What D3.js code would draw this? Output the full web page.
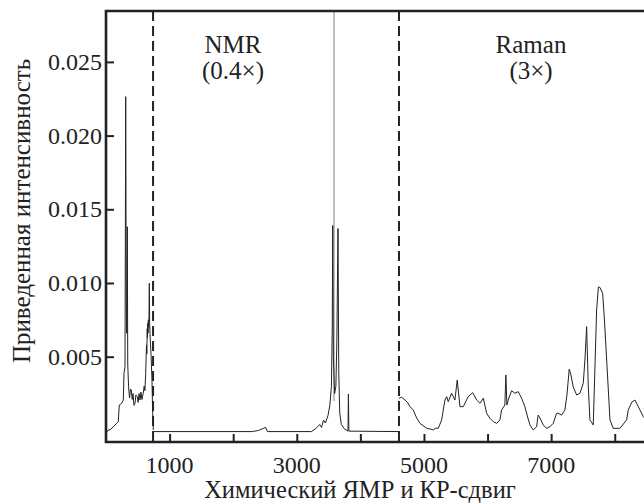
<!DOCTYPE html>
<html>
<head>
<meta charset="utf-8">
<script src="https://cdn.jsdelivr.net/npm/d3@7"></script>
<style>
  body { margin: 0; background: #fff; }
  svg { display: block; }
  svg text { font-family: 'Liberation Serif' !important; }
</style>
</head>
<body>
<div class="container"></div>
<script>
// left block (0 - 740)
var leftShift = [16, 36, 63, 115, 168, 193, 209, 247, 272, 283, 299, 310, 318, 325, 335, 342, 355, 370, 385, 398, 412, 425, 440, 456, 470, 492, 505, 520, 535, 550, 565, 586, 600, 612, 624, 637, 642, 648, 652, 656, 661, 666, 671, 676, 681, 687, 692, 700, 708, 723, 734, 744];
var leftInt = [-0.0001, 0.00003, 0.00003, 0.00025, 0.00048, 0.00059, 0.00172, 0.00184, 0.00206, 0.00387, 0.00432, 0.02264, 0.00885, 0.00659, 0.01382, 0.0045, 0.00296, 0.0022, 0.0028, 0.00274, 0.0021, 0.0025, 0.0017, 0.00184, 0.0024, 0.00229, 0.0019, 0.0025, 0.00206, 0.0026, 0.0021, 0.00252, 0.003, 0.0027, 0.00387, 0.0058, 0.0052, 0.0069, 0.0063, 0.00727, 0.0066, 0.0075, 0.0070, 0.0078, 0.00998, 0.0072, 0.00659, 0.0058, 0.00523, 0.0034, 0.00116, 0.00003];

// NMR block (0.4x)
var nmrShift = [744, 2300, 2400, 2480, 2510, 2540, 3230, 3290, 3330, 3360, 3390, 3420, 3450, 3490, 3520, 3545, 3558, 3565, 3575, 3595, 3615, 3630, 3648, 3660, 3675, 3700, 3750, 3805, 3812, 3819, 4607];
var nmrInt = [-0.00008, -0.00008, 0.0000, 0.00015, 0.0002, -0.00008, -0.00008, 0.0001, 0.00025, 0.0004, 0.0002, 0.0007, 0.0005, 0.001, 0.0017, 0.003, 0.007, 0.0139, 0.005, 0.0025, 0.003, 0.006, 0.0137, 0.004, 0.0012, 0.0004, 0.0001, -0.00005, 0.00247, -0.00005, -0.00008];

// Raman block (3x)
var ramanShift = [4607, 4649, 4701, 4748, 4780, 4832, 4885, 4937, 5043, 5094, 5146, 5188, 5225, 5278, 5303, 5330, 5357, 5382, 5435, 5487, 5523, 5566, 5618, 5696, 5766, 5829, 5881, 5933, 5986, 6038, 6090, 6144, 6195, 6220, 6272, 6288, 6304, 6325, 6378, 6430, 6482, 6535, 6587, 6634, 6666, 6718, 6771, 6796, 6824, 6876, 6929, 6981, 7033, 7086, 7111, 7164, 7216, 7248, 7284, 7311, 7347, 7401, 7453, 7505, 7531, 7558, 7584, 7610, 7662, 7715, 7743, 7767, 7810, 7838, 7873, 7925, 7977, 8082, 8187, 8212, 8270, 8318, 8370, 8449, 8520];
var ramanInt = [0.00218, 0.00225, 0.00206, 0.00186, 0.00161, 0.00138, 0.00084, 0.00048, 0.00014, 0.0001, 0.00003, 0.00016, 0.00014, 0.00071, 0.00138, 0.00206, 0.00229, 0.00195, 0.00252, 0.00206, 0.00342, 0.00161, 0.00161, 0.00229, 0.00256, 0.00206, 0.00184, 0.00218, 0.00116, 0.00082, 0.00059, 0.00048, 0.00071, 0.00138, 0.00172, 0.00376, 0.00172, 0.00206, 0.00269, 0.00252, 0.00263, 0.00218, 0.00161, 0.00084, 0.00037, 0.00003, 0.00025, 0.00104, 0.00084, 0.00037, 0.00014, 0.00025, 0.00048, 0.00116, 0.00116, 0.00104, 0.00138, 0.0024, 0.00415, 0.00376, 0.00296, 0.0024, 0.00252, 0.0032, 0.00478, 0.00704, 0.00296, 0.00071, 0.00037, 0.00817, 0.00973, 0.0097, 0.0093, 0.00749, 0.00478, 0.00071, 0.00014, 0.00014, 0.00071, 0.00138, 0.00193, 0.00206, 0.00161, 0.00093, 0.0006];

var dividers = [740, 4607];
var refLine = 3585;
var xTicks = [1000, 2000, 3000, 4000, 5000, 6000, 7000, 8000];
var xTickLabels = ["1000", "", "3000", "", "5000", "", "7000", ""];
var yTicks = [0.005, 0.010, 0.015, 0.020, 0.025];
var yTickLabels = ["0.005", "0.010", "0.015", "0.020", "0.025"];

var WIDTH = 644, HEIGHT = 504;
var LEFT = 106, TOP = 11, BOTTOM = 442;
var SERIF = 'Liberation Serif';

var xScale = d3.scaleLinear().domain([0, 8460]).range([LEFT, 644]);
var yScale = d3.scaleLinear().domain([-0.000787, 0.028453]).range([BOTTOM, TOP]);

var svg = d3.select('.container').append('svg')
  .attr('width', WIDTH)
  .attr('height', HEIGHT)
  .attr('font-family', SERIF);

var zip = function(xs, ys) {
  return xs.map(function(d, i) { return [d, ys[i]]; });
}

var addText = function(parent, str, size) {
  return parent.append('text')
    .attr('font-family', SERIF)
    .style('font-family', "'" + SERIF + "'")
    .attr('font-size', size)
    .attr('fill', '#222')
    .text(str);
}

var line = d3.line()
  .x(function(d) { return xScale(d[0]); })
  .y(function(d) { return yScale(d[1]); });

// grey reference line
svg.append('line')
  .attr('x1', xScale(refLine)).attr('x2', xScale(refLine))
  .attr('y1', TOP).attr('y2', yScale(0.002))
  .attr('stroke', '#aaa').attr('stroke-width', 1.5);

// spectra
[zip(leftShift, leftInt), zip(nmrShift, nmrInt), zip(ramanShift, ramanInt)].forEach(function(data) {
  svg.append('path')
    .datum(data)
    .attr('d', line)
    .attr('fill', 'none')
    .attr('stroke', '#222')
    .attr('stroke-width', 1)
    .attr('stroke-linejoin', 'round');
});

// dashed dividers
svg.selectAll('.divider').data(dividers)
  .enter().append('line')
  .attr('class', 'divider')
  .attr('x1', function(d) { return xScale(d); })
  .attr('x2', function(d) { return xScale(d); })
  .attr('y1', TOP).attr('y2', BOTTOM)
  .attr('stroke', '#222').attr('stroke-width', 2)
  .attr('stroke-dasharray', '10,5');

// axes (tick marks only, labels drawn as plain text below)
var xAxis = d3.axisBottom(xScale).tickValues(xTicks).tickSize(-8).tickFormat('');
var yAxis = d3.axisLeft(yScale).tickValues(yTicks).tickSize(-8).tickFormat('');

var gx = svg.append('g').attr('transform', 'translate(0,' + BOTTOM + ')').call(xAxis);
var gy = svg.append('g').attr('transform', 'translate(' + LEFT + ',0)').call(yAxis);
[gx, gy].forEach(function(g) {
  g.select('.domain').remove();
  g.selectAll('.tick text').remove();
  g.selectAll('.tick line').attr('stroke', '#222').attr('stroke-width', 2);
});

xTicks.forEach(function(d, i) {
  if (!xTickLabels[i]) return;
  addText(svg, xTickLabels[i], 24)
    .attr('x', xScale(d)).attr('y', 473)
    .attr('text-anchor', 'middle');
});
yTicks.forEach(function(d, i) {
  addText(svg, yTickLabels[i], 24)
    .attr('x', LEFT - 4).attr('y', yScale(d))
    .attr('dy', '0.34em')
    .attr('text-anchor', 'end');
});

// frame: left, bottom, top
svg.append('path')
  .attr('d', 'M' + (WIDTH + 10) + ',' + TOP + 'H' + LEFT + 'V' + BOTTOM + 'H' + (WIDTH + 10))
  .attr('fill', 'none')
  .attr('stroke', '#222')
  .attr('stroke-width', 2.6);

// region labels
var regionLabels = [
  {x: 233, lines: ['NMR', '(0.4\u00d7)']},
  {x: 531, lines: ['Raman', '(3\u00d7)']}
];
regionLabels.forEach(function(r) {
  r.lines.forEach(function(t, i) {
    addText(svg, t, 25)
      .attr('x', r.x).attr('y', 53 + i * 26)
      .attr('text-anchor', 'middle');
  });
});

// axis titles
addText(svg, 'Химический ЯМР и КР-сдвиг', 24.5)
  .attr('x', 360).attr('y', 498)
  .attr('text-anchor', 'middle');

addText(svg, 'Приведенная интенсивность', 25)
  .attr('transform', 'translate(30,211) rotate(-90)')
  .attr('text-anchor', 'middle');
</script>
</body>
</html>
